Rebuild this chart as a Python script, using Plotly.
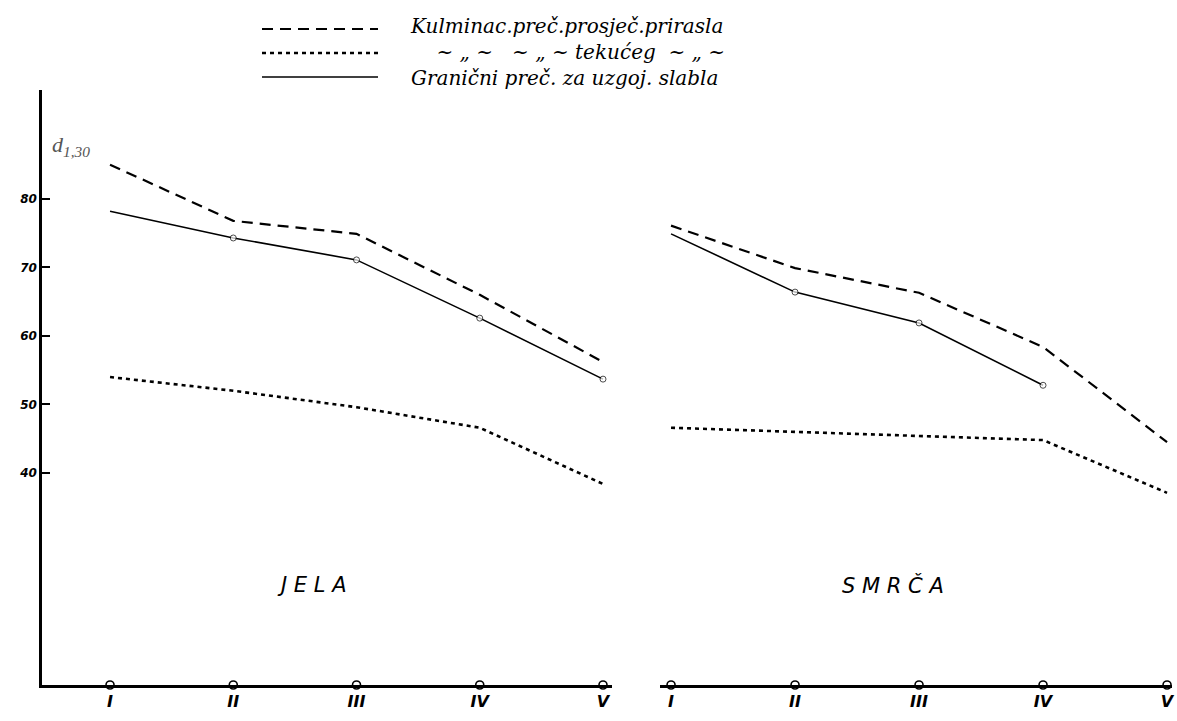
import plotly.graph_objects as go

# ---------------- data ----------------
categories = ["I", "II", "III", "IV", "V"]
positions = [1, 2, 3, 4, 5]

series_names = [
    "Kulminac.preč.prosječ.prirasla",
    "~ \u201e ~   ~ \u201e ~ tekućeg  ~ \u201e ~",
    "Granični preč. za uzgoj. slabla",
]

jela_prosjecni = [85.0, 76.8, 74.9, 66.0, 56.2]
jela_tekuci = [54.0, 52.0, 49.6, 46.6, 38.4]
jela_granicni = [78.2, 74.3, 71.1, 62.6, 53.7]

smrca_prosjecni = [76.1, 69.9, 66.3, 58.4, 44.5]
smrca_tekuci = [46.6, 46.0, 45.3, 44.8, 37.1]
smrca_granicni = [74.9, 66.4, 61.9, 52.8, None]

y_ticks = [40, 50, 60, 70, 80]
y_min, y_max = 9.05, 95.9

panel_titles = ["J E L A", "S M R Č A"]

# ---------------- styles ----------------
W, H = 1177, 721
ML, MR, MT, MB = 42, 5, 90, 36
PW, PH = W - ML - MR, H - MT - MB

def px_x(p):
    return (p - ML) / PW

def px_y(p):
    return (H - MB - p) / PH

styles = [
    dict(color="black", width=2.2, dash="11px,7px"),
    dict(color="black", width=2.6, dash="4px,4px"),
    dict(color="black", width=1.6),
]

fig = go.Figure()

panels = [
    ("x", "y", [jela_prosjecni, jela_tekuci, jela_granicni]),
    ("x2", "y2", [smrca_prosjecni, smrca_tekuci, smrca_granicni]),
]

for xa, ya, data in panels:
    for i, vals in enumerate(data):
        if i == 2:
            fig.add_trace(go.Scatter(
                x=positions, y=vals, mode="lines+markers", name=series_names[i],
                line=styles[i],
                marker=dict(size=[0, 6, 6, 6, 6], color="white",
                            line=dict(color="black", width=1)),
                xaxis=xa, yaxis=ya, showlegend=False, cliponaxis=False,
                connectgaps=False,
            ))
        else:
            fig.add_trace(go.Scatter(
                x=positions, y=vals, mode="lines", name=series_names[i],
                line=styles[i], xaxis=xa, yaxis=ya, showlegend=False,
                cliponaxis=False,
            ))
    # circles on the category axis
    fig.add_trace(go.Scatter(
        x=positions, y=[y_min] * len(positions), mode="markers",
        marker=dict(size=8, color="white", line=dict(color="black", width=1.6)),
        xaxis=xa, yaxis=ya, showlegend=False, cliponaxis=False,
    ))

tickfont_x = dict(family="DejaVu Sans", size=16, color="black",
                  style="italic", weight="bold")
tickfont_y = dict(family="DejaVu Sans", size=12, color="black",
                  style="italic", weight="bold")

left_dom = [0, px_x(612)]
right_dom = [px_x(660), 1]

fig.update_layout(
    width=W, height=H,
    margin=dict(l=ML, r=MR, t=MT, b=MB),
    paper_bgcolor="white", plot_bgcolor="white",
    xaxis=dict(domain=left_dom, range=[0.448, 5.073], tickvals=positions,
               ticktext=categories, showgrid=False, zeroline=False,
               showline=True, linecolor="black", linewidth=2.5,
               ticks="", tickfont=tickfont_x, anchor="y", automargin=False),
    yaxis=dict(range=[y_min, y_max], tickvals=y_ticks,
               ticktext=[str(v) for v in y_ticks], showgrid=False,
               zeroline=False, showline=True, linecolor="black",
               linewidth=2.5, ticks="inside", ticklen=8, tickwidth=1.5,
               tickcolor="black", tickfont=tickfont_y, anchor="x",
               automargin=False),
    xaxis2=dict(domain=right_dom, range=[0.911, 5.04], tickvals=positions,
                ticktext=categories, showgrid=False, zeroline=False,
                showline=True, linecolor="black", linewidth=2.5,
                ticks="", tickfont=tickfont_x, anchor="y2", automargin=False),
    yaxis2=dict(range=[y_min, y_max], showgrid=False, zeroline=False,
                showline=False, showticklabels=False, ticks="",
                anchor="x2", automargin=False),
)

# panel titles
fig.add_annotation(x=2.64, y=23.6, xref="x", yref="y", text=panel_titles[0],
                   showarrow=False,
                   font=dict(family="DejaVu Sans", size=21, color="black",
                             style="italic"))
fig.add_annotation(x=2.79, y=23.6, xref="x2", yref="y2", text=panel_titles[1],
                   showarrow=False,
                   font=dict(family="DejaVu Sans", size=21, color="black",
                             style="italic"))

# y-axis title
fig.add_annotation(x=px_x(50), y=px_y(130), xref="paper", yref="paper",
                   text="<i>d<sub>1,30</sub></i>", showarrow=False,
                   xanchor="left",
                   font=dict(family="Liberation Serif", size=22, color="#555"))

# custom legend (sample lines + one multi-line text block)
legend_rows = [29, 53, 77]
for i, row in enumerate(legend_rows):
    fig.add_shape(type="line", xref="paper", yref="paper",
                  x0=px_x(262), x1=px_x(378), y0=px_y(row), y1=px_y(row),
                  line=styles[i])

legend_text = "<br>".join(
    ["<i>" + series_names[0] + "</i>",
     "<i>" + "\u2007\u2007" + series_names[1] + "</i>",
     "<i>" + series_names[2] + "</i>"])
fig.add_annotation(x=px_x(408), y=px_y(52), xref="paper", yref="paper",
                   text=legend_text, showarrow=False, xanchor="left",
                   yanchor="middle", align="left",
                   font=dict(family="DejaVu Serif", size=20, color="black"))

fig.write_html("out.html",
               config={"displayModeBar": False},
               post_script="document.body.style.margin='0';"
                           "document.body.style.overflow='hidden';")
